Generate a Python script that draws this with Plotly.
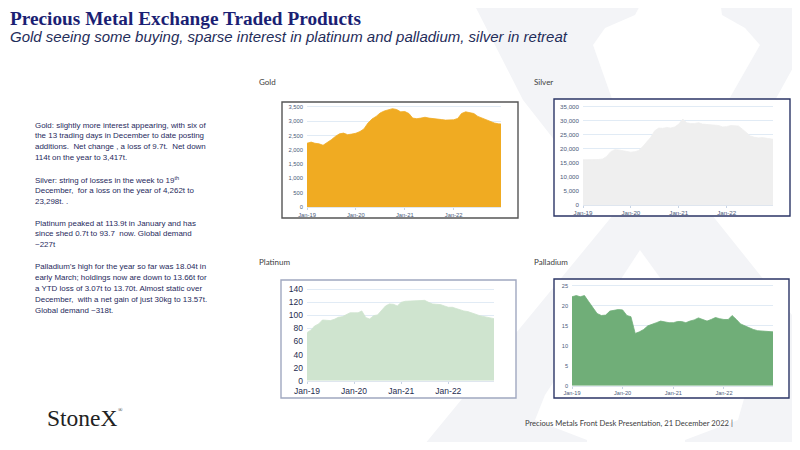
import pandas as pd
import plotly.graph_objects as go

# the page body adds an 8px margin, so the figure is drawn 16px smaller
# and every position below is given in window pixels
PAD = 8
W, H = 800 - 2 * PAD, 450 - 2 * PAD

# monthly readings Jan-19 .. Dec-22, plus the last print on 21 Dec 2022
dates = list(pd.date_range("2019-01-01", "2022-12-01", freq="MS")) + [pd.Timestamp("2022-12-21")]

gold = [2230, 2270, 2230, 2210, 2160, 2250, 2350, 2470, 2560, 2585, 2530, 2550,
        2580, 2640, 2730, 2940, 3080, 3170, 3290, 3360, 3410, 3440, 3410, 3330,
        3340, 3270, 3110, 3090, 3110, 3140, 3110, 3100, 3080, 3060, 3040, 3040,
        3050, 3100, 3270, 3330, 3290, 3270, 3170, 3110, 3060, 3000, 2940, 2910,
        2905]
silver = [16100, 16100, 16100, 16100, 16200, 16400, 17300, 19000, 19700, 19600, 19400, 19000,
          18800, 19000, 19400, 20800, 22300, 24100, 26400, 27400, 27300, 27600, 27400, 27800,
          28800, 30600, 29300, 29000, 29000, 29300, 28800, 28700, 28600, 28400, 28300, 27800,
          27900, 28300, 28200, 28100, 27000, 25600, 24600, 24100, 23900, 24000, 23700, 23500,
          23400]
platinum = [73.6, 77.7, 83.8, 86.9, 93, 93, 92, 94, 97, 98, 101.7, 104,
            104, 104, 106.8, 96.6, 94.5, 99.6, 100.7, 107.3, 114.5, 117.5, 117, 114.5,
            120, 121.6, 122, 122, 122.6, 123.7, 123, 120, 117.5, 117, 116.5, 114.5,
            112.4, 112.4, 110.4, 107.8, 106.8, 105.8, 104.2, 101.7, 99.6, 98.1, 97, 96,
            95]
palladium = [22.3, 22.6, 22.3, 22.6, 21.1, 19.4, 18.1, 17.6, 17.7, 18.7, 18.9, 19.1,
             19.0, 17.6, 17.3, 13.1, 13.5, 14.1, 15.0, 15.5, 15.8, 16.2, 16.0, 15.8,
             15.8, 16.1, 16.1, 15.8, 16.2, 16.5, 17.0, 16.6, 16.2, 16.6, 17.1, 16.8,
             16.6, 16.6, 17.6, 16.6, 15.5, 15.0, 14.5, 14.1, 13.8, 13.7, 13.7, 13.5,
             13.5]

notes = [
    "Gold: slightly more interest appearing, with six of",
    "the 13 trading days in December to date posting",
    "additions.  Net change , a loss of 9.7t.  Net down",
    "114t on the year to 3,417t.",
    "",
    "Silver: string of losses in the week to 19<sup>th</sup>",
    "December,  for a loss on the year of 4,262t to",
    "23,298t. .",
    "",
    "Platinum peaked at 113.9t in January and has",
    "since shed 0.7t to 93.7  now. Global demand",
    "~227t",
    "",
    "Palladium\u2019s high for the year so far was 18.04t in",
    "early March; holdings now are down to 13.66t for",
    "a YTD loss of 3.07t to 13.70t. Almost static over",
    "December,  with a net gain of just 30kg to 13.57t.",
    "Global demand ~318t.",
]


def px(x, y):
    return (x - PAD) / W, 1 - (y - PAD) / H


def path(points):
    s = ""
    for i, (x, y) in enumerate(points):
        a, b = px(x, y)
        s += ("M" if i == 0 else "L") + f"{a:.4f},{b:.4f} "
    return s + "Z"


# name, values, colour, plot area (left, right, y0 px, top px), y max, dtick, tick font, box, border, title pos
panels = [
    ("Gold", gold, "#f0ab22", (307, 501, 207, 104.1), 3600, 500, 5.8, "#4a5a7a", (282, 518, 102, 218), "#555555", (257, 82)),
    ("Silver", silver, "#efefef", (583, 773, 205, 103.9), 36000, 5000, 6.2, "#4a5a7a", (554, 790, 99, 216), "#2b3566", (532, 82)),
    ("Platinum", platinum, "#cfe4cf", (307, 494, 380.7, 286), 145, 20, 8.5, "#1f2d4f", (281, 516, 280, 398), "#a0a8c0", (257, 262)),
    ("Palladium", palladium, "#70ae78", (572, 773, 385.7, 282), 26, 5, 5.6, "#4a5a7a", (554, 789, 279, 398), "#2b3566", (532, 262)),
]

fig = go.Figure()
shapes = []
annotations = []

# faint X watermark
shapes.append(dict(type="path", xref="paper", yref="paper", layer="below", line_width=0,
                   fillcolor="#f3f4f7",
                   path=path([(472, 0), (830, 0), (800, 55), (712, 215), (900, 450),
                              (420, 450), (613, 215), (523, 100)])))
shapes.append(dict(type="path", xref="paper", yref="paper", layer="below", line_width=0,
                   fillcolor="white",
                   path=path([(643, 0), (720, 0), (722, 15), (745, 28), (760, 45), (700, 150),
                              (668, 195), (660, 195), (630, 150), (593, 45), (605, 28), (635, 15)])))
shapes.append(dict(type="path", xref="paper", yref="paper", layer="below", line_width=0,
                   fillcolor="white",
                   path=path([(640, 250), (745, 395), (738, 420), (685, 440), (685, 450),
                              (587, 450), (587, 440), (535, 420), (545, 395)])))

for i, (name, vals, col, area, ymax, dt, fs, fc, box, bcol, tpos) in enumerate(panels):
    n = "" if i == 0 else str(i + 1)
    fig.add_trace(go.Scatter(x=dates, y=vals, mode="lines", fill="tozeroy",
                             line=dict(color=col, width=0.8), fillcolor=col,
                             xaxis="x" + n, yaxis="y" + n, showlegend=False,
                             hoverinfo="x+y"))
    l, r, yb, yt = area
    x0, _ = px(l, PAD)
    x1, _ = px(r, PAD)
    _, y0 = px(PAD, yb)
    _, y1 = px(PAD, yt)
    fig.layout["xaxis" + n] = dict(domain=[x0, x1], anchor="y" + n, automargin=False,
                                   range=["2019-01-01", "2022-12-21"],
                                   tick0="2019-01-01", dtick="M12", tickformat="%b-%y",
                                   ticks="outside", ticklen=2, tickcolor="#c8d4e4",
                                   showgrid=False, showline=True, linecolor="#dfe6ef",
                                   tickfont=dict(family="Liberation Sans", size=fs, color=fc),
                                   zeroline=False, fixedrange=True)
    fig.layout["yaxis" + n] = dict(domain=[y0, y1], anchor="x" + n, automargin=False,
                                   range=[0, ymax],
                                   dtick=dt, tickformat=",", showgrid=True,
                                   gridcolor="#e1ebf5", gridwidth=1, zeroline=False,
                                   ticklabelstandoff=3,
                                   tickfont=dict(family="Liberation Sans", size=fs, color=fc),
                                   fixedrange=True)
    bx0, bx1, by0, by1 = box
    a0, b0 = px(bx0, by1)
    a1, b1 = px(bx1, by0)
    shapes.append(dict(type="rect", xref="paper", yref="paper", layer="below",
                       x0=a0, x1=a1, y0=b0, y1=b1, fillcolor="white",
                       line=dict(color=bcol, width=1.4)))
    tx, ty = px(*tpos)
    annotations.append(dict(text=name, x=tx, y=ty, xref="paper", yref="paper",
                            xanchor="left", yanchor="middle", showarrow=False,
                            font=dict(family="Lato", size=8, color="#404040")))

# heading
annotations.append(dict(text="Precious Metal Exchange Traded Products", x=px(8, 0)[0], y=px(0, 19)[1],
                        xref="paper", yref="paper", xanchor="left", yanchor="middle", showarrow=False,
                        font=dict(family="Liberation Serif", size=19.3, color="#1b1f74", weight="bold")))
annotations.append(dict(text="Gold seeing some buying, sparse interest in platinum and palladium, silver in retreat",
                        x=px(8, 0)[0], y=px(0, 37)[1], xref="paper", yref="paper",
                        xanchor="left", yanchor="middle", showarrow=False,
                        font=dict(family="Liberation Sans", size=15, color="#1f2d5a", style="italic")))

# commentary, one annotation per line
for k, line in enumerate(notes):
    if not line:
        continue
    annotations.append(dict(text=line.replace("  ", " &nbsp;"), x=px(33, 0)[0], y=px(0, 125 + 10.9 * k)[1],
                            xref="paper", yref="paper", xanchor="left", yanchor="middle",
                            showarrow=False,
                            font=dict(family="Liberation Sans", size=7.95, color="#1f2a5c")))

# footer
annotations.append(dict(text="StoneX", x=px(45, 0)[0], y=px(0, 418)[1], xref="paper", yref="paper",
                        xanchor="left", yanchor="middle", showarrow=False,
                        font=dict(family="Liberation Serif", size=23.5, color="#222222")))
annotations.append(dict(text="\u00ae", x=px(116, 0)[0], y=px(0, 410)[1], xref="paper", yref="paper",
                        xanchor="left", yanchor="middle", showarrow=False,
                        font=dict(family="Liberation Serif", size=6, color="#222222")))
annotations.append(dict(text="Precious Metals Front Desk Presentation, 21 December 2022 |",
                        x=px(523, 0)[0], y=px(0, 423)[1], xref="paper", yref="paper",
                        xanchor="left", yanchor="middle", showarrow=False,
                        font=dict(family="Lato", size=7.6, color="#404040")))

fig.update_layout(width=W, height=H, autosize=False,
                  margin=dict(l=0, r=0, t=0, b=0),
                  paper_bgcolor="white", plot_bgcolor="white",
                  shapes=shapes, annotations=annotations)

fig.write_html("out.html")
